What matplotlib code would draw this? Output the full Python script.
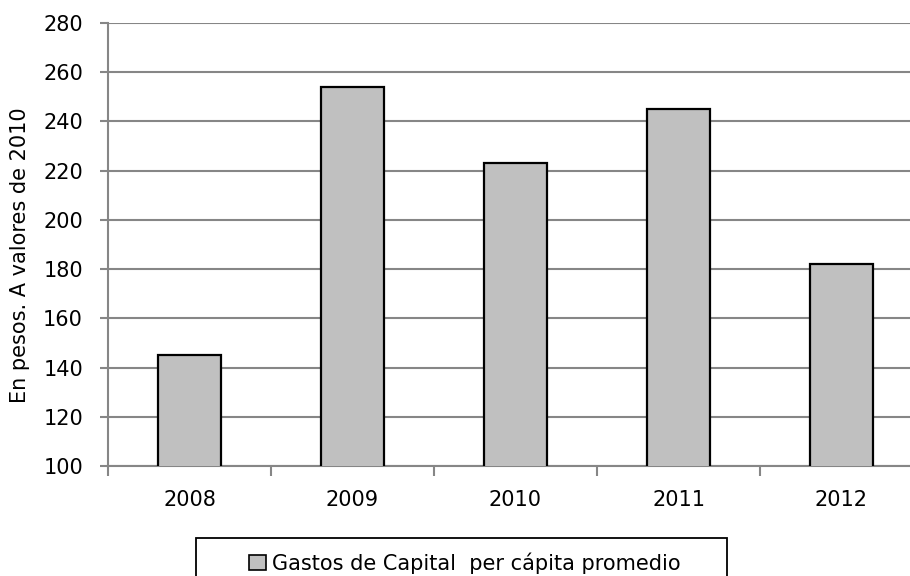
import matplotlib
matplotlib.use("Agg")
import matplotlib.pyplot as plt
from matplotlib.patches import Patch, Rectangle

years = ["2008", "2009", "2010", "2011", "2012"]
gastos = [145, 254, 223, 245, 182]
series_name = "Gastos de Capital  per cápita promedio"
ylabel = "En pesos. A valores de 2010"
yticks = [100, 120, 140, 160, 180, 200, 220, 240, 260, 280]

plt.rcParams["font.family"] = ["DejaVu Sans"]
GRID = "#868686"
FS = 15

fig = plt.figure(figsize=(9.1, 5.76), dpi=100)
ax = fig.add_axes([108 / 910, 1 - 466 / 576, 815 / 910, 443 / 576])

x = list(range(len(years)))
ax.bar(x, gastos, width=0.39, color="#c0c0c0", edgecolor="black",
       linewidth=1.6, zorder=3, label=series_name)

ax.set_ylim(100, 280)
ax.set_xlim(-0.5, len(years) - 0.5)
ax.set_yticks(yticks)
ax.set_yticklabels([str(v) for v in yticks], fontsize=FS)
ax.yaxis.grid(True, color=GRID, linewidth=1.5, zorder=0)

# category labels centred, ticks on the boundaries
ax.set_xticks(x)
ax.set_xticklabels(years, fontsize=FS)
ax.tick_params(axis="x", length=0, pad=17)
ax.set_xticks([i - 0.5 for i in x] + [len(years) - 0.5], minor=True)
ax.tick_params(axis="x", which="minor", length=7, color=GRID, width=1.5)
ax.tick_params(axis="y", length=6, color=GRID, width=1.5, pad=12)

for s in ["top", "right"]:
    ax.spines[s].set_visible(False)
for s in ["left", "bottom"]:
    ax.spines[s].set_color(GRID)
    ax.spines[s].set_linewidth(1.5)

fig.text(20 / 910, 1 - 255 / 576, ylabel, rotation=90, fontsize=FS,
         ha="center", va="center")

# legend box (runs off the bottom edge, as in the original)
fig.patches.append(Rectangle((196 / 910, -0.05), 531 / 910, 0.05 + 38 / 576,
                             transform=fig.transFigure, facecolor="none",
                             edgecolor="black", linewidth=1.3))
handle = Patch(facecolor="#c0c0c0", edgecolor="black", linewidth=1.2)
fig.legend([handle], [series_name], loc="center",
           bbox_to_anchor=(465 / 910, 1 - 563 / 576), fontsize=FS,
           frameon=False, handlelength=0.8, handleheight=0.8,
           handletextpad=0.3, borderaxespad=0, borderpad=0)

fig.savefig("out.png", dpi=100, facecolor="white")
